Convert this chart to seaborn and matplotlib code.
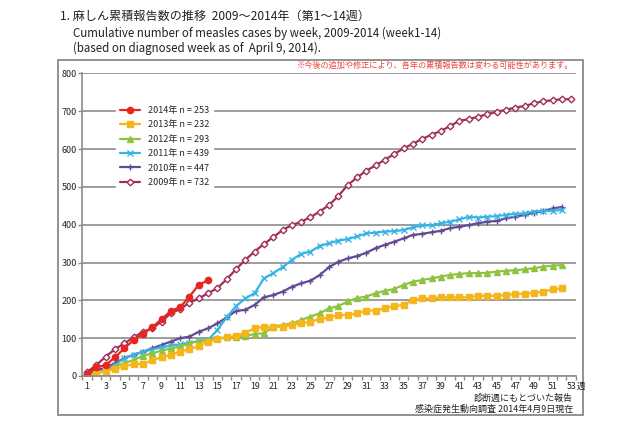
import numpy as np
import pandas as pd
import seaborn as sns
import matplotlib.pyplot as plt
from matplotlib.patches import Rectangle

# cumulative measles reports by diagnosed week
weeks = list(range(1, 54))
y2014 = [5, 23, 29, 49, 73, 95, 111, 129, 150, 172, 182, 210, 241, 253]
y2013 = [0, 5, 14, 18, 26, 31, 32, 42, 49, 56, 64, 71, 79, 91, 97, 102,
         106, 115, 126, 130, 130, 130, 135, 139, 144, 150, 155, 161, 161, 166,
         173, 173, 179, 185, 188, 201, 205, 205, 208, 208, 208, 208, 212, 212,
         212, 214, 217, 217, 220, 223, 229, 232]
y2012 = [2, 8, 15, 25, 34, 42, 53, 60, 67, 73, 78, 86, 93, 95, 100, 102,
         104, 106, 111, 113, 130, 135, 139, 148, 157, 166, 179, 185, 197, 206,
         210, 219, 225, 230, 241, 249, 254, 258, 263, 267, 270, 272, 272, 273,
         276, 278, 280, 282, 285, 289, 292, 293]
y2011 = [2, 6, 18, 29, 47, 56, 64, 70, 76, 80, 84, 88, 92, 95, 122, 155,
         185, 205, 219, 258, 272, 288, 307, 323, 329, 344, 351, 358, 362, 369,
         377, 379, 382, 383, 386, 393, 398, 398, 404, 408, 414, 421, 419, 421,
         423, 426, 429, 430, 435, 436, 437, 439]
y2010 = [5, 15, 22, 34, 47, 56, 64, 73, 82, 91, 100, 104, 117, 126, 139, 155,
         172, 175, 188, 208, 214, 223, 236, 245, 252, 267, 288, 302, 311, 317,
         326, 338, 347, 355, 364, 373, 376, 380, 384, 391, 395, 399, 404, 408,
         410, 417, 421, 426, 432, 436, 443, 447]
y2009 = [10, 29, 51, 71, 86, 102, 117, 126, 144, 166, 177, 194, 205, 219, 232,
         256, 282, 307, 329, 349, 367, 386, 399, 408, 420, 435, 452, 476, 505,
         525, 543, 557, 572, 587, 602, 614, 627, 638, 648, 661, 675, 679, 686,
         692, 699, 704, 710, 714, 721, 727, 729, 732, 732]

labels = ["2014年 n = 253", "2013年 n = 232", "2012年 n = 293",
          "2011年 n = 439", "2010年 n = 447", "2009年 n = 732"]
series = [y2014, y2013, y2012, y2011, y2010, y2009]
colors = ["#e8261f", "#f4b61c", "#8dc43f", "#37b4e6", "#624a95", "#a02f5c"]
markers = ["o", "s", "^", "x", "+", "D"]

sns.set_style("white")
plt.rcParams['font.family'] = ['Noto Sans CJK JP', 'DejaVu Sans']

fig = plt.figure(figsize=(6.4, 4.26), dpi=100)
ax = fig.add_axes([0.1287, 0.1174, 0.771, 0.7101])

# draw oldest first so 2014 sits on top
for vals, lab, col, mk in reversed(list(zip(series, labels, colors, markers))):
    face = "white" if mk == "D" else col
    ms = 3.4 if mk == "D" else (5 if mk in "x+" else 4.5)
    sns.lineplot(x=weeks[:len(vals)], y=vals, ax=ax, color=col, lw=1.6,
                 marker=mk, markersize=ms, markerfacecolor=face,
                 markeredgecolor=col, markeredgewidth=1.0, label=lab)

ax.set_xlim(0.5, 53.5)
ax.set_ylim(0, 800)
ax.set_yticks(range(0, 801, 100))
ax.set_xticks(range(1, 54, 2))
ax.set_xticks(np.arange(0.5, 54, 1), minor=True)
ax.set_xlabel("")
ax.set_ylabel("")
ax.yaxis.grid(True, color="#8c8c8c", lw=1.2)
ax.set_axisbelow(True)
for s in ["top", "right"]:
    ax.spines[s].set_visible(False)
for s in ["left", "bottom"]:
    ax.spines[s].set_color("#8c8c8c")
    ax.spines[s].set_linewidth(1.2)
ax.tick_params(axis="y", length=3, width=1, color="#8c8c8c", labelsize=6.5,
               pad=1, labelcolor="#222222", left=True)
ax.tick_params(axis="x", which="major", length=0, labelsize=6.3, pad=4,
               labelcolor="#222222")
ax.tick_params(axis="x", which="minor", length=3, width=1, color="#8c8c8c",
               bottom=True)

h, l = ax.get_legend_handles_labels()
order = [l.index(x) for x in labels]
ax.legend([h[i] for i in order], labels, loc="upper left",
          bbox_to_anchor=(0.068, 0.905), borderaxespad=0, frameon=True,
          facecolor="white", edgecolor="white", framealpha=1, fontsize=6.5,
          handlelength=2.3, handletextpad=0.8, labelspacing=0.6,
          fancybox=False)

fig.patches.append(Rectangle((0.0906, 0.0258), 0.8204, 0.8332,
                             transform=fig.transFigure, fill=False,
                             edgecolor="#8a8a8a", lw=1.3))

fig.text(0.094, 0.962, "1. 麻しん累積報告数の推移  2009～2014年（第1～14週）",
         fontsize=8.7, va="center", color="#222222")
fig.text(0.114, 0.9225,
         "Cumulative number of measles cases by week, 2009-2014 (week1-14)",
         fontsize=8.3, va="center", color="#222222")
fig.text(0.114, 0.887, "(based on diagnosed week as of  April 9, 2014).",
         fontsize=8.3, va="center", color="#222222")
fig.text(0.895, 0.847,
         "※今後の追加や修正により、各年の累積報告数は変わる可能性があります。",
         fontsize=5.9, color="#e8453c", ha="right", va="center")
fig.text(0.901, 1 - 386 / 426, "週", fontsize=6, va="center", color="#222222")
fig.text(0.895, 0.066, "診断週にもとづいた報告", fontsize=6.5, ha="right",
         va="center", color="#222222")
fig.text(0.895, 0.040, "感染症発生動向調査 2014年4月9日現在", fontsize=6.5,
         ha="right", va="center", color="#222222")

fig.savefig("out.png", dpi=100)
